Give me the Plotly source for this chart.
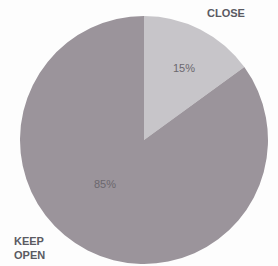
import plotly.graph_objects as go

categories = ["CLOSE", "KEEP OPEN"]
values = [15, 85]
colors = ["#c7c5c9", "#9b949b"]

W, H = 278, 266
cx, cy, r = 144, 140, 124

fig = go.Figure(go.Pie(
    labels=categories,
    values=values,
    sort=False,
    direction="clockwise",
    rotation=0,
    marker=dict(colors=colors, line=dict(width=0)),
    textinfo="none",
    hoverinfo="label+percent",
    domain=dict(x=[(cx - r) / W, (cx + r) / W], y=[(H - cy - r) / H, (H - cy + r) / H]),
    showlegend=False,
))

total = sum(values)
pct_pos = [(184, 68), (105, 184)]
for v, (px, py) in zip(values, pct_pos):
    fig.add_annotation(x=px / W, y=1 - py / H, xref="paper", yref="paper",
                       text=f"{round(100 * v / total)}%", showarrow=False,
                       xanchor="center", yanchor="middle",
                       font=dict(family="Liberation Sans, Arial, sans-serif", size=11, color="#6b686e"))

label_pos = [(226, 13, "center"), (12, 248, "left")]
for name, (lx, ly, al) in zip(categories, label_pos):
    fig.add_annotation(x=lx / W, y=1 - ly / H, xref="paper", yref="paper",
                       text="<b>" + name.replace(" ", "<br>") + "</b>", showarrow=False,
                       xanchor=al, yanchor="middle", align=al,
                       font=dict(family="Liberation Sans, Arial, sans-serif", size=11, color="#5a5a62"))

fig.update_layout(width=W, height=H, margin=dict(l=0, r=0, t=0, b=0),
                  paper_bgcolor="#fdfdfd", plot_bgcolor="#fdfdfd")
fig.write_html("out.html", config={"displayModeBar": False},
               post_script="document.body.style.margin='0';document.body.style.overflow='hidden';")
